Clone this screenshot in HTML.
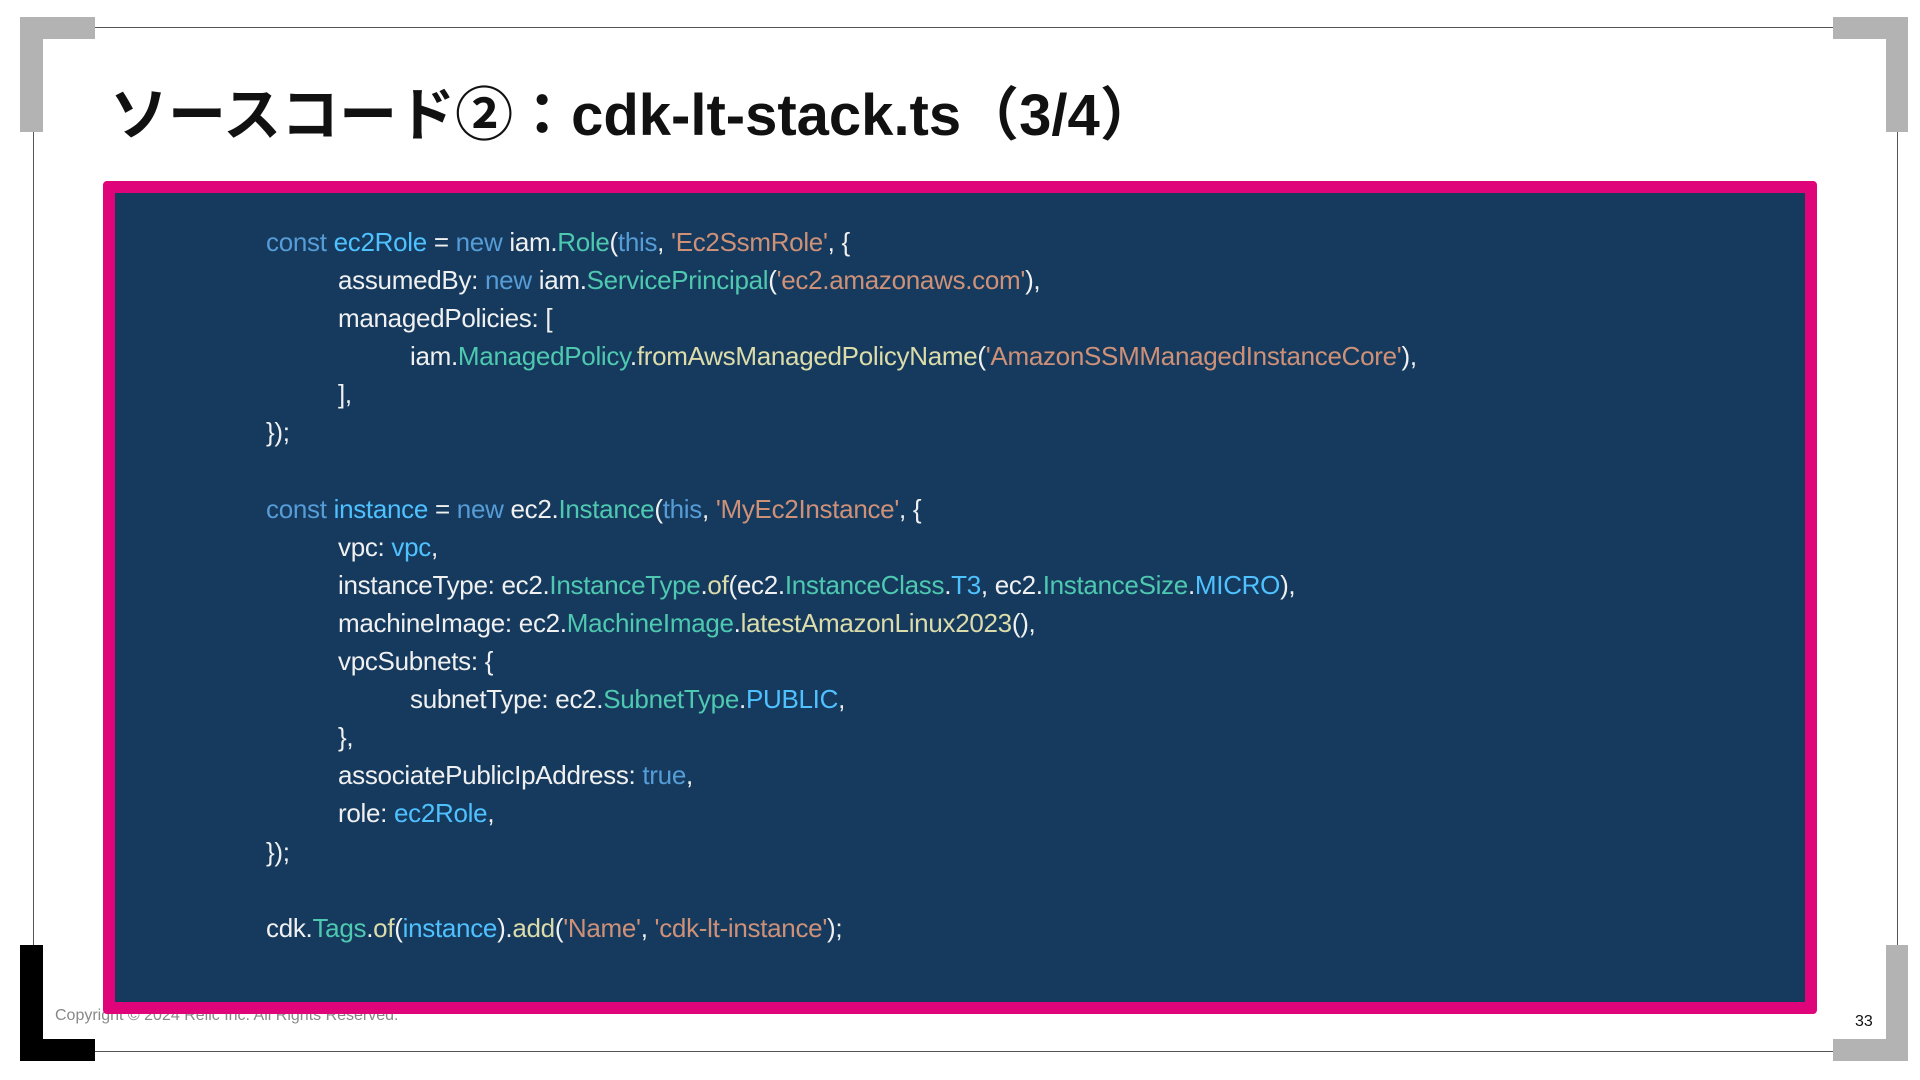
<!DOCTYPE html>
<html><head><meta charset="utf-8"><style>
html,body{margin:0;padding:0;width:1920px;height:1080px;background:#fff;overflow:hidden;position:relative;font-family:"Liberation Sans","Noto Sans CJK JP",sans-serif}
.a{position:absolute}
.g{background:#b3b3b3}
.k{background:#000}
#code{position:absolute;left:266px;top:223px;font-size:26px;line-height:38.1px;color:#f0f0f0;white-space:pre;letter-spacing:-0.3px}
.i1{padding-left:72px}.i2{padding-left:144px}
.kw{color:#569cd6}.v{color:#4fc1ff}.c{color:#4ec9b0}.s{color:#ce9178}.f{color:#dcdcaa}
</style></head><body>
<div class="a" style="left:95px;top:27px;width:1738px;height:1px;background:#555"></div>
<div class="a" style="left:95px;top:1051px;width:1738px;height:1px;background:#555"></div>
<div class="a" style="left:33px;top:132px;width:1px;height:813px;background:#555"></div>
<div class="a" style="left:1897px;top:132px;width:1px;height:813px;background:#555"></div>
<div class="a g" style="left:20px;top:17px;width:23px;height:115px"></div>
<div class="a g" style="left:20px;top:17px;width:75px;height:22px"></div>
<div class="a g" style="left:1886px;top:17px;width:22px;height:115px"></div>
<div class="a g" style="left:1833px;top:17px;width:75px;height:22px"></div>
<div class="a k" style="left:20px;top:945px;width:23px;height:116px"></div>
<div class="a k" style="left:20px;top:1039px;width:75px;height:22px"></div>
<div class="a g" style="left:1886px;top:945px;width:22px;height:116px"></div>
<div class="a g" style="left:1833px;top:1039px;width:75px;height:22px"></div>
<div class="a" style="left:110px;top:68px;font-size:58px;font-weight:bold;color:#111;white-space:nowrap">ソースコード②：cdk-lt-stack.ts（3/4）</div>
<div class="a" style="left:55px;top:1007px;font-size:16px;color:#888">Copyright © 2024 Relic Inc. All Rights Reserved.</div>
<div class="a" style="left:1855px;top:1013px;font-size:16px;color:#111">33</div>
<div class="a" style="left:103px;top:181px;width:1690px;height:809px;background:#153a5e;border:12px solid #e0047a;border-radius:4px"></div>
<div id="code"><div><span class="kw">const</span> <span class="v">ec2Role</span> = <span class="kw">new</span> iam.<span class="c">Role</span>(<span class="kw">this</span>, <span class="s">'Ec2SsmRole'</span>, {</div><div class="i1">assumedBy: <span class="kw">new</span> iam.<span class="c">ServicePrincipal</span>(<span class="s">'ec2.amazonaws.com'</span>),</div><div class="i1">managedPolicies: [</div><div class="i2">iam.<span class="c">ManagedPolicy</span>.<span class="f">fromAwsManagedPolicyName</span>(<span class="s">'AmazonSSMManagedInstanceCore'</span>),</div><div class="i1">],</div><div>});</div><div> </div><div><span class="kw">const</span> <span class="v">instance</span> = <span class="kw">new</span> ec2.<span class="c">Instance</span>(<span class="kw">this</span>, <span class="s">'MyEc2Instance'</span>, {</div><div class="i1">vpc: <span class="v">vpc</span>,</div><div class="i1">instanceType: ec2.<span class="c">InstanceType</span>.<span class="f">of</span>(ec2.<span class="c">InstanceClass</span>.<span class="v">T3</span>, ec2.<span class="c">InstanceSize</span>.<span class="v">MICRO</span>),</div><div class="i1">machineImage: ec2.<span class="c">MachineImage</span>.<span class="f">latestAmazonLinux2023</span>(),</div><div class="i1">vpcSubnets: {</div><div class="i2">subnetType: ec2.<span class="c">SubnetType</span>.<span class="v">PUBLIC</span>,</div><div class="i1">},</div><div class="i1">associatePublicIpAddress: <span class="kw">true</span>,</div><div class="i1">role: <span class="v">ec2Role</span>,</div><div>});</div><div> </div><div>cdk.<span class="c">Tags</span>.<span class="f">of</span>(<span class="v">instance</span>).<span class="f">add</span>(<span class="s">'Name'</span>, <span class="s">'cdk-lt-instance'</span>);</div></div>
</body></html>
